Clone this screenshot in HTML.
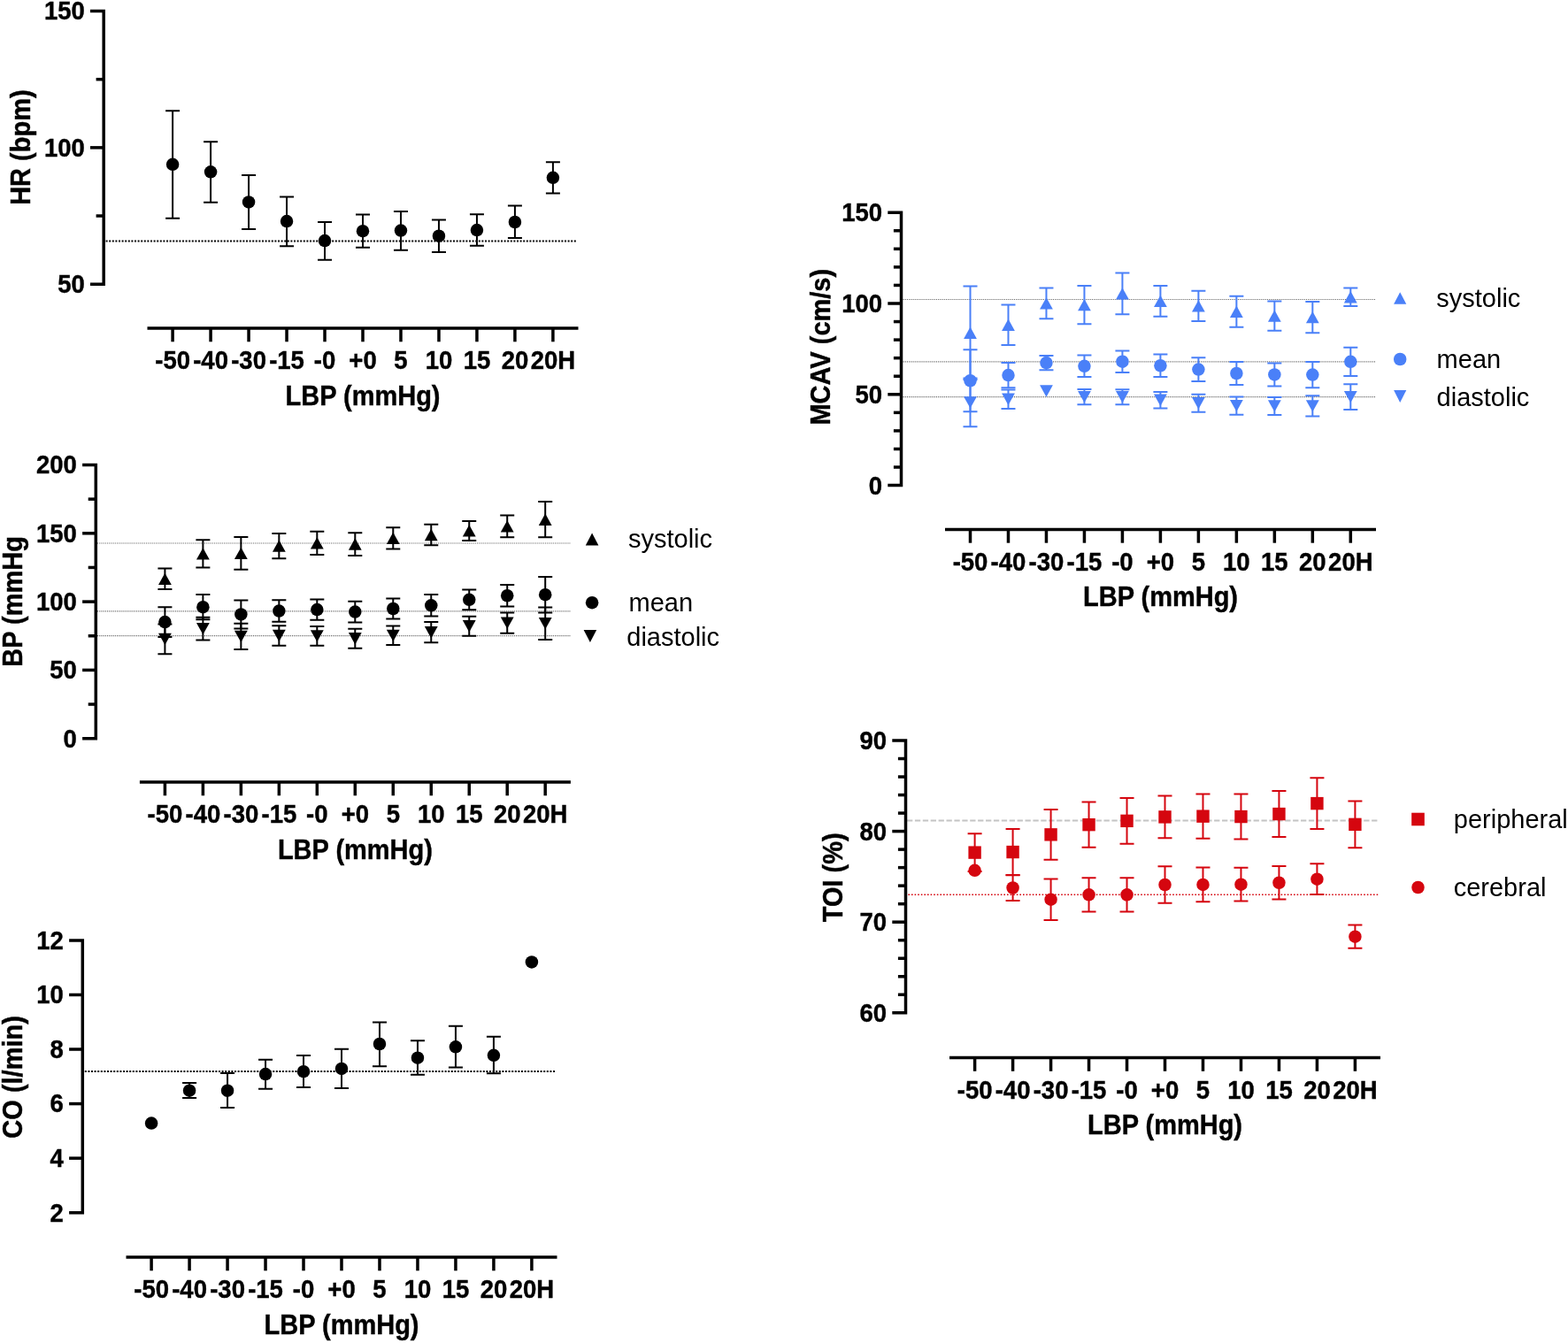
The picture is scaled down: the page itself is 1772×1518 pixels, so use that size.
<!DOCTYPE html>
<html><head><meta charset="utf-8"><title>LBP figure</title>
<style>
html,body{margin:0;padding:0;background:#fff;}
body{width:1772px;height:1518px;overflow:hidden;}
svg{display:block;}
.t{font-family:"Liberation Sans",Arial,sans-serif;font-weight:bold;font-size:27.5px;fill:#000;stroke:#000;stroke-width:0.4px;}
.a{font-family:"Liberation Sans",Arial,sans-serif;font-weight:bold;font-size:29.0px;fill:#000;stroke:#000;stroke-width:0.4px;}
.l{font-family:"Liberation Sans",Arial,sans-serif;font-weight:normal;font-size:29.0px;fill:#000;}
</style></head>
<body>
<svg width="1772" height="1518" viewBox="0 0 1772 1518">
<rect width="1772" height="1518" fill="#fff"/>
<line x1="119.6" y1="272.4" x2="652" y2="272.4" stroke="#000" stroke-width="2" stroke-dasharray="2 1.6"/>
<path d="M102 12.5H117.2V321.2H102" fill="none" stroke="#000" stroke-width="3.5" stroke-linejoin="miter" stroke-linecap="butt"/>
<text transform="translate(95.8 22.4) scale(1 1.04)" text-anchor="end" class="t">150</text>
<line x1="102" y1="166.85" x2="117.2" y2="166.85" stroke="#000" stroke-width="3.5"/>
<text transform="translate(95.8 176.75) scale(1 1.04)" text-anchor="end" class="t">100</text>
<text transform="translate(95.8 331.1) scale(1 1.04)" text-anchor="end" class="t">50</text>
<line x1="108.6" y1="244.02" x2="117.2" y2="244.02" stroke="#000" stroke-width="3.5"/>
<line x1="108.6" y1="89.68" x2="117.2" y2="89.68" stroke="#000" stroke-width="3.5"/>
<text transform="translate(33.8 166.6) rotate(-90) scale(1 1.09)" text-anchor="middle" class="a">HR (bpm)</text>
<line x1="166.5" y1="371" x2="653.5" y2="371" stroke="#000" stroke-width="3.5"/>
<line x1="195.1" y1="371" x2="195.1" y2="386.3" stroke="#000" stroke-width="3.5"/>
<text transform="translate(195.1 417.2) scale(1 1.04)" text-anchor="middle" class="t">-50</text>
<line x1="238.08" y1="371" x2="238.08" y2="386.3" stroke="#000" stroke-width="3.5"/>
<text transform="translate(238.08 417.2) scale(1 1.04)" text-anchor="middle" class="t">-40</text>
<line x1="281.06" y1="371" x2="281.06" y2="386.3" stroke="#000" stroke-width="3.5"/>
<text transform="translate(281.06 417.2) scale(1 1.04)" text-anchor="middle" class="t">-30</text>
<line x1="324.04" y1="371" x2="324.04" y2="386.3" stroke="#000" stroke-width="3.5"/>
<text transform="translate(324.04 417.2) scale(1 1.04)" text-anchor="middle" class="t">-15</text>
<line x1="367.02" y1="371" x2="367.02" y2="386.3" stroke="#000" stroke-width="3.5"/>
<text transform="translate(367.02 417.2) scale(1 1.04)" text-anchor="middle" class="t">-0</text>
<line x1="410" y1="371" x2="410" y2="386.3" stroke="#000" stroke-width="3.5"/>
<text transform="translate(410 417.2) scale(1 1.04)" text-anchor="middle" class="t">+0</text>
<line x1="452.98" y1="371" x2="452.98" y2="386.3" stroke="#000" stroke-width="3.5"/>
<text transform="translate(452.98 417.2) scale(1 1.04)" text-anchor="middle" class="t">5</text>
<line x1="495.96" y1="371" x2="495.96" y2="386.3" stroke="#000" stroke-width="3.5"/>
<text transform="translate(495.96 417.2) scale(1 1.04)" text-anchor="middle" class="t">10</text>
<line x1="538.94" y1="371" x2="538.94" y2="386.3" stroke="#000" stroke-width="3.5"/>
<text transform="translate(538.94 417.2) scale(1 1.04)" text-anchor="middle" class="t">15</text>
<line x1="581.92" y1="371" x2="581.92" y2="386.3" stroke="#000" stroke-width="3.5"/>
<text transform="translate(581.92 417.2) scale(1 1.04)" text-anchor="middle" class="t">20</text>
<line x1="624.9" y1="371" x2="624.9" y2="386.3" stroke="#000" stroke-width="3.5"/>
<text transform="translate(624.9 417.2) scale(1 1.04)" text-anchor="middle" class="t">20H</text>
<text transform="translate(410 457.8) scale(1 1.09)" text-anchor="middle" class="a">LBP (mmHg)</text>
<path d="M195.1 125.2V246.7M187.1 125.2H203.1M187.1 246.7H203.1" stroke="#000" stroke-width="2.0" fill="none"/>
<circle cx="195.1" cy="185.8" r="7.25" fill="#000"/>
<path d="M238.08 160.2V228.8M230.08 160.2H246.08M230.08 228.8H246.08" stroke="#000" stroke-width="2.0" fill="none"/>
<circle cx="238.08" cy="194.3" r="7.25" fill="#000"/>
<path d="M281.06 197.9V258.9M273.06 197.9H289.06M273.06 258.9H289.06" stroke="#000" stroke-width="2.0" fill="none"/>
<circle cx="281.06" cy="228.4" r="7.25" fill="#000"/>
<path d="M324.04 222.5V278.3M316.04 222.5H332.04M316.04 278.3H332.04" stroke="#000" stroke-width="2.0" fill="none"/>
<circle cx="324.04" cy="250.1" r="7.25" fill="#000"/>
<path d="M367.02 251.1V293.7M359.02 251.1H375.02M359.02 293.7H375.02" stroke="#000" stroke-width="2.0" fill="none"/>
<circle cx="367.02" cy="272.1" r="7.25" fill="#000"/>
<path d="M410 242.4V279.8M402 242.4H418M402 279.8H418" stroke="#000" stroke-width="2.0" fill="none"/>
<circle cx="410" cy="261.2" r="7.25" fill="#000"/>
<path d="M452.98 238.9V282.7M444.98 238.9H460.98M444.98 282.7H460.98" stroke="#000" stroke-width="2.0" fill="none"/>
<circle cx="452.98" cy="260.6" r="7.25" fill="#000"/>
<path d="M495.96 248.4V284.9M487.96 248.4H503.96M487.96 284.9H503.96" stroke="#000" stroke-width="2.0" fill="none"/>
<circle cx="495.96" cy="266.7" r="7.25" fill="#000"/>
<path d="M538.94 242.3V277.8M530.94 242.3H546.94M530.94 277.8H546.94" stroke="#000" stroke-width="2.0" fill="none"/>
<circle cx="538.94" cy="260.1" r="7.25" fill="#000"/>
<path d="M581.92 232.4V268.9M573.92 232.4H589.92M573.92 268.9H589.92" stroke="#000" stroke-width="2.0" fill="none"/>
<circle cx="581.92" cy="251" r="7.25" fill="#000"/>
<path d="M624.9 183.2V218.4M616.9 183.2H632.9M616.9 218.4H632.9" stroke="#000" stroke-width="2.0" fill="none"/>
<circle cx="624.9" cy="200.8" r="7.25" fill="#000"/>
<line x1="110" y1="614" x2="645" y2="614" stroke="#666" stroke-width="1.2" stroke-dasharray="1.1 1.1"/>
<line x1="110" y1="690.8" x2="645" y2="690.8" stroke="#666" stroke-width="1.2" stroke-dasharray="1.1 1.1"/>
<line x1="110" y1="718.7" x2="645" y2="718.7" stroke="#666" stroke-width="1.2" stroke-dasharray="1.1 1.1"/>
<path d="M93.1 525.5H108.3V834.7H93.1" fill="none" stroke="#000" stroke-width="3.5" stroke-linejoin="miter" stroke-linecap="butt"/>
<text transform="translate(86.9 535.4) scale(1 1.04)" text-anchor="end" class="t">200</text>
<line x1="93.1" y1="602.8" x2="108.3" y2="602.8" stroke="#000" stroke-width="3.5"/>
<text transform="translate(86.9 612.7) scale(1 1.04)" text-anchor="end" class="t">150</text>
<line x1="93.1" y1="680.1" x2="108.3" y2="680.1" stroke="#000" stroke-width="3.5"/>
<text transform="translate(86.9 690) scale(1 1.04)" text-anchor="end" class="t">100</text>
<line x1="93.1" y1="757.4" x2="108.3" y2="757.4" stroke="#000" stroke-width="3.5"/>
<text transform="translate(86.9 767.3) scale(1 1.04)" text-anchor="end" class="t">50</text>
<text transform="translate(86.9 844.6) scale(1 1.04)" text-anchor="end" class="t">0</text>
<line x1="99.7" y1="796.05" x2="108.3" y2="796.05" stroke="#000" stroke-width="3.5"/>
<line x1="99.7" y1="718.75" x2="108.3" y2="718.75" stroke="#000" stroke-width="3.5"/>
<line x1="99.7" y1="641.45" x2="108.3" y2="641.45" stroke="#000" stroke-width="3.5"/>
<line x1="99.7" y1="564.15" x2="108.3" y2="564.15" stroke="#000" stroke-width="3.5"/>
<text transform="translate(25.1 679.9) rotate(-90) scale(1 1.09)" text-anchor="middle" class="a">BP (mmHg</text>
<line x1="157.9" y1="884" x2="644.9" y2="884" stroke="#000" stroke-width="3.5"/>
<line x1="186.4" y1="884" x2="186.4" y2="899.3" stroke="#000" stroke-width="3.5"/>
<text transform="translate(186.4 930.2) scale(1 1.04)" text-anchor="middle" class="t">-50</text>
<line x1="229.38" y1="884" x2="229.38" y2="899.3" stroke="#000" stroke-width="3.5"/>
<text transform="translate(229.38 930.2) scale(1 1.04)" text-anchor="middle" class="t">-40</text>
<line x1="272.36" y1="884" x2="272.36" y2="899.3" stroke="#000" stroke-width="3.5"/>
<text transform="translate(272.36 930.2) scale(1 1.04)" text-anchor="middle" class="t">-30</text>
<line x1="315.34" y1="884" x2="315.34" y2="899.3" stroke="#000" stroke-width="3.5"/>
<text transform="translate(315.34 930.2) scale(1 1.04)" text-anchor="middle" class="t">-15</text>
<line x1="358.32" y1="884" x2="358.32" y2="899.3" stroke="#000" stroke-width="3.5"/>
<text transform="translate(358.32 930.2) scale(1 1.04)" text-anchor="middle" class="t">-0</text>
<line x1="401.3" y1="884" x2="401.3" y2="899.3" stroke="#000" stroke-width="3.5"/>
<text transform="translate(401.3 930.2) scale(1 1.04)" text-anchor="middle" class="t">+0</text>
<line x1="444.28" y1="884" x2="444.28" y2="899.3" stroke="#000" stroke-width="3.5"/>
<text transform="translate(444.28 930.2) scale(1 1.04)" text-anchor="middle" class="t">5</text>
<line x1="487.26" y1="884" x2="487.26" y2="899.3" stroke="#000" stroke-width="3.5"/>
<text transform="translate(487.26 930.2) scale(1 1.04)" text-anchor="middle" class="t">10</text>
<line x1="530.24" y1="884" x2="530.24" y2="899.3" stroke="#000" stroke-width="3.5"/>
<text transform="translate(530.24 930.2) scale(1 1.04)" text-anchor="middle" class="t">15</text>
<line x1="573.22" y1="884" x2="573.22" y2="899.3" stroke="#000" stroke-width="3.5"/>
<text transform="translate(573.22 930.2) scale(1 1.04)" text-anchor="middle" class="t">20</text>
<line x1="616.2" y1="884" x2="616.2" y2="899.3" stroke="#000" stroke-width="3.5"/>
<text transform="translate(616.2 930.2) scale(1 1.04)" text-anchor="middle" class="t">20H</text>
<text transform="translate(401.4 970.8) scale(1 1.09)" text-anchor="middle" class="a">LBP (mmHg)</text>
<path d="M186.4 642.6V666.1M178.4 642.6H194.4M178.4 666.1H194.4" stroke="#000" stroke-width="2.0" fill="none"/>
<path d="M186.4 647.65L193.8 661.05L179 661.05Z" fill="#000"/>
<path d="M186.4 686.3V719.9M178.4 686.3H194.4M178.4 719.9H194.4" stroke="#000" stroke-width="2.0" fill="none"/>
<circle cx="186.4" cy="703.1" r="7.25" fill="#000"/>
<path d="M186.4 705.5V739.3M178.4 705.5H194.4M178.4 739.3H194.4" stroke="#000" stroke-width="2.0" fill="none"/>
<path d="M179 715.7L193.8 715.7L186.4 729.1Z" fill="#000"/>
<path d="M229.38 610.2V641.5M221.38 610.2H237.38M221.38 641.5H237.38" stroke="#000" stroke-width="2.0" fill="none"/>
<path d="M229.38 619.15L236.78 632.55L221.98 632.55Z" fill="#000"/>
<path d="M229.38 672.1V700.3M221.38 672.1H237.38M221.38 700.3H237.38" stroke="#000" stroke-width="2.0" fill="none"/>
<circle cx="229.38" cy="686.2" r="7.25" fill="#000"/>
<path d="M229.38 697.7V723.5M221.38 697.7H237.38M221.38 723.5H237.38" stroke="#000" stroke-width="2.0" fill="none"/>
<path d="M221.98 703.9L236.78 703.9L229.38 717.3Z" fill="#000"/>
<path d="M272.36 607V643.7M264.36 607H280.36M264.36 643.7H280.36" stroke="#000" stroke-width="2.0" fill="none"/>
<path d="M272.36 618.65L279.76 632.05L264.96 632.05Z" fill="#000"/>
<path d="M272.36 678.5V710.4M264.36 678.5H280.36M264.36 710.4H280.36" stroke="#000" stroke-width="2.0" fill="none"/>
<circle cx="272.36" cy="694.45" r="7.25" fill="#000"/>
<path d="M272.36 704.8V733.9M264.36 704.8H280.36M264.36 733.9H280.36" stroke="#000" stroke-width="2.0" fill="none"/>
<path d="M264.96 712.65L279.76 712.65L272.36 726.05Z" fill="#000"/>
<path d="M315.34 603V631.3M307.34 603H323.34M307.34 631.3H323.34" stroke="#000" stroke-width="2.0" fill="none"/>
<path d="M315.34 610.45L322.74 623.85L307.94 623.85Z" fill="#000"/>
<path d="M315.34 678.3V702.8M307.34 678.3H323.34M307.34 702.8H323.34" stroke="#000" stroke-width="2.0" fill="none"/>
<circle cx="315.34" cy="690.55" r="7.25" fill="#000"/>
<path d="M315.34 707.3V729.7M307.34 707.3H323.34M307.34 729.7H323.34" stroke="#000" stroke-width="2.0" fill="none"/>
<path d="M307.94 711.8L322.74 711.8L315.34 725.2Z" fill="#000"/>
<path d="M358.32 600.7V627M350.32 600.7H366.32M350.32 627H366.32" stroke="#000" stroke-width="2.0" fill="none"/>
<path d="M358.32 607.15L365.72 620.55L350.92 620.55Z" fill="#000"/>
<path d="M358.32 677.4V700.7M350.32 677.4H366.32M350.32 700.7H366.32" stroke="#000" stroke-width="2.0" fill="none"/>
<circle cx="358.32" cy="689.05" r="7.25" fill="#000"/>
<path d="M358.32 708V729.8M350.32 708H366.32M350.32 729.8H366.32" stroke="#000" stroke-width="2.0" fill="none"/>
<path d="M350.92 712.2L365.72 712.2L358.32 725.6Z" fill="#000"/>
<path d="M401.3 602.2V627.9M393.3 602.2H409.3M393.3 627.9H409.3" stroke="#000" stroke-width="2.0" fill="none"/>
<path d="M401.3 608.35L408.7 621.75L393.9 621.75Z" fill="#000"/>
<path d="M401.3 679.7V703.5M393.3 679.7H409.3M393.3 703.5H409.3" stroke="#000" stroke-width="2.0" fill="none"/>
<circle cx="401.3" cy="691.6" r="7.25" fill="#000"/>
<path d="M401.3 710.8V732.8M393.3 710.8H409.3M393.3 732.8H409.3" stroke="#000" stroke-width="2.0" fill="none"/>
<path d="M393.9 715.1L408.7 715.1L401.3 728.5Z" fill="#000"/>
<path d="M444.28 596.2V620.5M436.28 596.2H452.28M436.28 620.5H452.28" stroke="#000" stroke-width="2.0" fill="none"/>
<path d="M444.28 601.65L451.68 615.05L436.88 615.05Z" fill="#000"/>
<path d="M444.28 676.4V699.6M436.28 676.4H452.28M436.28 699.6H452.28" stroke="#000" stroke-width="2.0" fill="none"/>
<circle cx="444.28" cy="688" r="7.25" fill="#000"/>
<path d="M444.28 707.6V729.1M436.28 707.6H452.28M436.28 729.1H452.28" stroke="#000" stroke-width="2.0" fill="none"/>
<path d="M436.88 711.65L451.68 711.65L444.28 725.05Z" fill="#000"/>
<path d="M487.26 592.8V616.3M479.26 592.8H495.26M479.26 616.3H495.26" stroke="#000" stroke-width="2.0" fill="none"/>
<path d="M487.26 597.85L494.66 611.25L479.86 611.25Z" fill="#000"/>
<path d="M487.26 672V696.6M479.26 672H495.26M479.26 696.6H495.26" stroke="#000" stroke-width="2.0" fill="none"/>
<circle cx="487.26" cy="684.3" r="7.25" fill="#000"/>
<path d="M487.26 703.1V726.3M479.26 703.1H495.26M479.26 726.3H495.26" stroke="#000" stroke-width="2.0" fill="none"/>
<path d="M479.86 708L494.66 708L487.26 721.4Z" fill="#000"/>
<path d="M530.24 588.9V610.9M522.24 588.9H538.24M522.24 610.9H538.24" stroke="#000" stroke-width="2.0" fill="none"/>
<path d="M530.24 593.2L537.64 606.6L522.84 606.6Z" fill="#000"/>
<path d="M530.24 666.4V689.3M522.24 666.4H538.24M522.24 689.3H538.24" stroke="#000" stroke-width="2.0" fill="none"/>
<circle cx="530.24" cy="677.85" r="7.25" fill="#000"/>
<path d="M530.24 696.8V718.8M522.24 696.8H538.24M522.24 718.8H538.24" stroke="#000" stroke-width="2.0" fill="none"/>
<path d="M522.84 701.1L537.64 701.1L530.24 714.5Z" fill="#000"/>
<path d="M573.22 582.5V607.2M565.22 582.5H581.22M565.22 607.2H581.22" stroke="#000" stroke-width="2.0" fill="none"/>
<path d="M573.22 588.15L580.62 601.55L565.82 601.55Z" fill="#000"/>
<path d="M573.22 661V685.5M565.22 661H581.22M565.22 685.5H581.22" stroke="#000" stroke-width="2.0" fill="none"/>
<circle cx="573.22" cy="673.25" r="7.25" fill="#000"/>
<path d="M573.22 692.4V715.8M565.22 692.4H581.22M565.22 715.8H581.22" stroke="#000" stroke-width="2.0" fill="none"/>
<path d="M565.82 697.4L580.62 697.4L573.22 710.8Z" fill="#000"/>
<path d="M616.2 567.1V607.3M608.2 567.1H624.2M608.2 607.3H624.2" stroke="#000" stroke-width="2.0" fill="none"/>
<path d="M616.2 580.5L623.6 593.9L608.8 593.9Z" fill="#000"/>
<path d="M616.2 652V692.4M608.2 652H624.2M608.2 692.4H624.2" stroke="#000" stroke-width="2.0" fill="none"/>
<circle cx="616.2" cy="672.2" r="7.25" fill="#000"/>
<path d="M616.2 686.4V722.9M608.2 686.4H624.2M608.2 722.9H624.2" stroke="#000" stroke-width="2.0" fill="none"/>
<path d="M608.8 697.95L623.6 697.95L616.2 711.35Z" fill="#000"/>
<path d="M669.1 602.4L676.4 616.4L661.8 616.4Z" fill="#000"/>
<text transform="translate(710 619.2) scale(1 1.04)" class="l">systolic</text>
<circle cx="669.1" cy="681.2" r="7.25" fill="#000"/>
<text transform="translate(710.5 691.4) scale(1 1.04)" class="l">mean</text>
<path d="M659.6 712.1L674.2 712.1L666.9 726.1Z" fill="#000"/>
<text transform="translate(708.3 729.5) scale(1 1.04)" class="l">diastolic</text>
<line x1="95.8" y1="1210.9" x2="628" y2="1210.9" stroke="#000" stroke-width="2" stroke-dasharray="2 1.6"/>
<path d="M78.1 1062.9H93.3V1370.7H78.1" fill="none" stroke="#000" stroke-width="3.5" stroke-linejoin="miter" stroke-linecap="butt"/>
<text transform="translate(71.9 1072.8) scale(1 1.04)" text-anchor="end" class="t">12</text>
<line x1="78.1" y1="1124.46" x2="93.3" y2="1124.46" stroke="#000" stroke-width="3.5"/>
<text transform="translate(71.9 1134.36) scale(1 1.04)" text-anchor="end" class="t">10</text>
<line x1="78.1" y1="1186.02" x2="93.3" y2="1186.02" stroke="#000" stroke-width="3.5"/>
<text transform="translate(71.9 1195.92) scale(1 1.04)" text-anchor="end" class="t">8</text>
<line x1="78.1" y1="1247.58" x2="93.3" y2="1247.58" stroke="#000" stroke-width="3.5"/>
<text transform="translate(71.9 1257.48) scale(1 1.04)" text-anchor="end" class="t">6</text>
<line x1="78.1" y1="1309.14" x2="93.3" y2="1309.14" stroke="#000" stroke-width="3.5"/>
<text transform="translate(71.9 1319.04) scale(1 1.04)" text-anchor="end" class="t">4</text>
<text transform="translate(71.9 1380.6) scale(1 1.04)" text-anchor="end" class="t">2</text>
<text transform="translate(25.3 1217.4) rotate(-90) scale(1 1.09)" text-anchor="middle" class="a">CO (l/min)</text>
<line x1="142.5" y1="1421" x2="629.5" y2="1421" stroke="#000" stroke-width="3.5"/>
<line x1="171.1" y1="1421" x2="171.1" y2="1436.3" stroke="#000" stroke-width="3.5"/>
<text transform="translate(171.1 1467.2) scale(1 1.04)" text-anchor="middle" class="t">-50</text>
<line x1="214.08" y1="1421" x2="214.08" y2="1436.3" stroke="#000" stroke-width="3.5"/>
<text transform="translate(214.08 1467.2) scale(1 1.04)" text-anchor="middle" class="t">-40</text>
<line x1="257.06" y1="1421" x2="257.06" y2="1436.3" stroke="#000" stroke-width="3.5"/>
<text transform="translate(257.06 1467.2) scale(1 1.04)" text-anchor="middle" class="t">-30</text>
<line x1="300.04" y1="1421" x2="300.04" y2="1436.3" stroke="#000" stroke-width="3.5"/>
<text transform="translate(300.04 1467.2) scale(1 1.04)" text-anchor="middle" class="t">-15</text>
<line x1="343.02" y1="1421" x2="343.02" y2="1436.3" stroke="#000" stroke-width="3.5"/>
<text transform="translate(343.02 1467.2) scale(1 1.04)" text-anchor="middle" class="t">-0</text>
<line x1="386" y1="1421" x2="386" y2="1436.3" stroke="#000" stroke-width="3.5"/>
<text transform="translate(386 1467.2) scale(1 1.04)" text-anchor="middle" class="t">+0</text>
<line x1="428.98" y1="1421" x2="428.98" y2="1436.3" stroke="#000" stroke-width="3.5"/>
<text transform="translate(428.98 1467.2) scale(1 1.04)" text-anchor="middle" class="t">5</text>
<line x1="471.96" y1="1421" x2="471.96" y2="1436.3" stroke="#000" stroke-width="3.5"/>
<text transform="translate(471.96 1467.2) scale(1 1.04)" text-anchor="middle" class="t">10</text>
<line x1="514.94" y1="1421" x2="514.94" y2="1436.3" stroke="#000" stroke-width="3.5"/>
<text transform="translate(514.94 1467.2) scale(1 1.04)" text-anchor="middle" class="t">15</text>
<line x1="557.92" y1="1421" x2="557.92" y2="1436.3" stroke="#000" stroke-width="3.5"/>
<text transform="translate(557.92 1467.2) scale(1 1.04)" text-anchor="middle" class="t">20</text>
<line x1="600.9" y1="1421" x2="600.9" y2="1436.3" stroke="#000" stroke-width="3.5"/>
<text transform="translate(600.9 1467.2) scale(1 1.04)" text-anchor="middle" class="t">20H</text>
<text transform="translate(386 1507.8) scale(1 1.09)" text-anchor="middle" class="a">LBP (mmHg)</text>
<circle cx="171.1" cy="1269.6" r="7.25" fill="#000"/>
<path d="M214.08 1224.1V1241M206.08 1224.1H222.08M206.08 1241H222.08" stroke="#000" stroke-width="2.0" fill="none"/>
<circle cx="214.08" cy="1232.7" r="7.25" fill="#000"/>
<path d="M257.06 1213.1V1252M249.06 1213.1H265.06M249.06 1252H265.06" stroke="#000" stroke-width="2.0" fill="none"/>
<circle cx="257.06" cy="1232.7" r="7.25" fill="#000"/>
<path d="M300.04 1197.7V1230.7M292.04 1197.7H308.04M292.04 1230.7H308.04" stroke="#000" stroke-width="2.0" fill="none"/>
<circle cx="300.04" cy="1214.1" r="7.25" fill="#000"/>
<path d="M343.02 1193.1V1228.9M335.02 1193.1H351.02M335.02 1228.9H351.02" stroke="#000" stroke-width="2.0" fill="none"/>
<circle cx="343.02" cy="1211.2" r="7.25" fill="#000"/>
<path d="M386 1185.8V1229.9M378 1185.8H394M378 1229.9H394" stroke="#000" stroke-width="2.0" fill="none"/>
<circle cx="386" cy="1207.9" r="7.25" fill="#000"/>
<path d="M428.98 1155.4V1205.3M420.98 1155.4H436.98M420.98 1205.3H436.98" stroke="#000" stroke-width="2.0" fill="none"/>
<circle cx="428.98" cy="1180" r="7.25" fill="#000"/>
<path d="M471.96 1176.2V1214.8M463.96 1176.2H479.96M463.96 1214.8H479.96" stroke="#000" stroke-width="2.0" fill="none"/>
<circle cx="471.96" cy="1195.7" r="7.25" fill="#000"/>
<path d="M514.94 1159.8V1206.4M506.94 1159.8H522.94M506.94 1206.4H522.94" stroke="#000" stroke-width="2.0" fill="none"/>
<circle cx="514.94" cy="1183.3" r="7.25" fill="#000"/>
<path d="M557.92 1171.8V1213.3M549.92 1171.8H565.92M549.92 1213.3H565.92" stroke="#000" stroke-width="2.0" fill="none"/>
<circle cx="557.92" cy="1192.8" r="7.25" fill="#000"/>
<circle cx="600.9" cy="1087.4" r="7.25" fill="#000"/>
<line x1="1020.5" y1="338.5" x2="1555" y2="338.5" stroke="#666" stroke-width="1.2" stroke-dasharray="1.1 1.1"/>
<line x1="1020.5" y1="408.8" x2="1555" y2="408.8" stroke="#666" stroke-width="1.2" stroke-dasharray="1.1 1.1"/>
<line x1="1020.5" y1="448.7" x2="1555" y2="448.7" stroke="#666" stroke-width="1.2" stroke-dasharray="1.1 1.1"/>
<path d="M1003.3 240.2H1018.5V548.6H1003.3" fill="none" stroke="#000" stroke-width="3.5" stroke-linejoin="miter" stroke-linecap="butt"/>
<text transform="translate(997.1 250.1) scale(1 1.04)" text-anchor="end" class="t">150</text>
<line x1="1003.3" y1="343" x2="1018.5" y2="343" stroke="#000" stroke-width="3.5"/>
<text transform="translate(997.1 352.9) scale(1 1.04)" text-anchor="end" class="t">100</text>
<line x1="1003.3" y1="445.8" x2="1018.5" y2="445.8" stroke="#000" stroke-width="3.5"/>
<text transform="translate(997.1 455.7) scale(1 1.04)" text-anchor="end" class="t">50</text>
<text transform="translate(997.1 558.5) scale(1 1.04)" text-anchor="end" class="t">0</text>
<line x1="1009.9" y1="528.04" x2="1018.5" y2="528.04" stroke="#000" stroke-width="3.5"/>
<line x1="1009.9" y1="507.48" x2="1018.5" y2="507.48" stroke="#000" stroke-width="3.5"/>
<line x1="1009.9" y1="486.92" x2="1018.5" y2="486.92" stroke="#000" stroke-width="3.5"/>
<line x1="1009.9" y1="466.36" x2="1018.5" y2="466.36" stroke="#000" stroke-width="3.5"/>
<line x1="1009.9" y1="425.24" x2="1018.5" y2="425.24" stroke="#000" stroke-width="3.5"/>
<line x1="1009.9" y1="404.68" x2="1018.5" y2="404.68" stroke="#000" stroke-width="3.5"/>
<line x1="1009.9" y1="384.12" x2="1018.5" y2="384.12" stroke="#000" stroke-width="3.5"/>
<line x1="1009.9" y1="363.56" x2="1018.5" y2="363.56" stroke="#000" stroke-width="3.5"/>
<line x1="1009.9" y1="322.44" x2="1018.5" y2="322.44" stroke="#000" stroke-width="3.5"/>
<line x1="1009.9" y1="301.88" x2="1018.5" y2="301.88" stroke="#000" stroke-width="3.5"/>
<line x1="1009.9" y1="281.32" x2="1018.5" y2="281.32" stroke="#000" stroke-width="3.5"/>
<line x1="1009.9" y1="260.76" x2="1018.5" y2="260.76" stroke="#000" stroke-width="3.5"/>
<text transform="translate(938.2 392.2) rotate(-90) scale(1 1.09)" text-anchor="middle" class="a">MCAV (cm/s)</text>
<line x1="1068" y1="598.4" x2="1555" y2="598.4" stroke="#000" stroke-width="3.5"/>
<line x1="1096.5" y1="598.4" x2="1096.5" y2="613.7" stroke="#000" stroke-width="3.5"/>
<text transform="translate(1096.5 644.6) scale(1 1.04)" text-anchor="middle" class="t">-50</text>
<line x1="1139.48" y1="598.4" x2="1139.48" y2="613.7" stroke="#000" stroke-width="3.5"/>
<text transform="translate(1139.48 644.6) scale(1 1.04)" text-anchor="middle" class="t">-40</text>
<line x1="1182.46" y1="598.4" x2="1182.46" y2="613.7" stroke="#000" stroke-width="3.5"/>
<text transform="translate(1182.46 644.6) scale(1 1.04)" text-anchor="middle" class="t">-30</text>
<line x1="1225.44" y1="598.4" x2="1225.44" y2="613.7" stroke="#000" stroke-width="3.5"/>
<text transform="translate(1225.44 644.6) scale(1 1.04)" text-anchor="middle" class="t">-15</text>
<line x1="1268.42" y1="598.4" x2="1268.42" y2="613.7" stroke="#000" stroke-width="3.5"/>
<text transform="translate(1268.42 644.6) scale(1 1.04)" text-anchor="middle" class="t">-0</text>
<line x1="1311.4" y1="598.4" x2="1311.4" y2="613.7" stroke="#000" stroke-width="3.5"/>
<text transform="translate(1311.4 644.6) scale(1 1.04)" text-anchor="middle" class="t">+0</text>
<line x1="1354.38" y1="598.4" x2="1354.38" y2="613.7" stroke="#000" stroke-width="3.5"/>
<text transform="translate(1354.38 644.6) scale(1 1.04)" text-anchor="middle" class="t">5</text>
<line x1="1397.36" y1="598.4" x2="1397.36" y2="613.7" stroke="#000" stroke-width="3.5"/>
<text transform="translate(1397.36 644.6) scale(1 1.04)" text-anchor="middle" class="t">10</text>
<line x1="1440.34" y1="598.4" x2="1440.34" y2="613.7" stroke="#000" stroke-width="3.5"/>
<text transform="translate(1440.34 644.6) scale(1 1.04)" text-anchor="middle" class="t">15</text>
<line x1="1483.32" y1="598.4" x2="1483.32" y2="613.7" stroke="#000" stroke-width="3.5"/>
<text transform="translate(1483.32 644.6) scale(1 1.04)" text-anchor="middle" class="t">20</text>
<line x1="1526.3" y1="598.4" x2="1526.3" y2="613.7" stroke="#000" stroke-width="3.5"/>
<text transform="translate(1526.3 644.6) scale(1 1.04)" text-anchor="middle" class="t">20H</text>
<text transform="translate(1311.5 685.2) scale(1 1.09)" text-anchor="middle" class="a">LBP (mmHg)</text>
<path d="M1096.5 323.4V429M1088.5 323.4H1104.5M1088.5 429H1104.5" stroke="#4a80f8" stroke-width="2.0" fill="none"/>
<path d="M1096.5 369.5L1103.9 382.9L1089.1 382.9Z" fill="#4a80f8"/>
<path d="M1096.5 395.3V465.2M1088.5 395.3H1104.5M1088.5 465.2H1104.5" stroke="#4a80f8" stroke-width="2.0" fill="none"/>
<circle cx="1096.5" cy="430.25" r="7.25" fill="#4a80f8"/>
<path d="M1096.5 427.5V482.3M1088.5 427.5H1104.5M1088.5 482.3H1104.5" stroke="#4a80f8" stroke-width="2.0" fill="none"/>
<path d="M1089.1 448.2L1103.9 448.2L1096.5 461.6Z" fill="#4a80f8"/>
<path d="M1139.48 344.4V390.1M1131.48 344.4H1147.48M1131.48 390.1H1147.48" stroke="#4a80f8" stroke-width="2.0" fill="none"/>
<path d="M1139.48 360.55L1146.88 373.95L1132.08 373.95Z" fill="#4a80f8"/>
<path d="M1139.48 409.9V438.3M1131.48 409.9H1147.48M1131.48 438.3H1147.48" stroke="#4a80f8" stroke-width="2.0" fill="none"/>
<circle cx="1139.48" cy="424.1" r="7.25" fill="#4a80f8"/>
<path d="M1139.48 440.6V462M1131.48 440.6H1147.48M1131.48 462H1147.48" stroke="#4a80f8" stroke-width="2.0" fill="none"/>
<path d="M1132.08 444.6L1146.88 444.6L1139.48 458Z" fill="#4a80f8"/>
<path d="M1182.46 325.4V360.3M1174.46 325.4H1190.46M1174.46 360.3H1190.46" stroke="#4a80f8" stroke-width="2.0" fill="none"/>
<path d="M1182.46 336.15L1189.86 349.55L1175.06 349.55Z" fill="#4a80f8"/>
<path d="M1182.46 402V418.2M1174.46 402H1190.46M1174.46 418.2H1190.46" stroke="#4a80f8" stroke-width="2.0" fill="none"/>
<circle cx="1182.46" cy="410.1" r="7.25" fill="#4a80f8"/>
<path d="M1175.06 435.3L1189.86 435.3L1182.46 448.7Z" fill="#4a80f8"/>
<path d="M1225.44 322.9V366.3M1217.44 322.9H1233.44M1217.44 366.3H1233.44" stroke="#4a80f8" stroke-width="2.0" fill="none"/>
<path d="M1225.44 337.9L1232.84 351.3L1218.04 351.3Z" fill="#4a80f8"/>
<path d="M1225.44 401.6V426M1217.44 401.6H1233.44M1217.44 426H1233.44" stroke="#4a80f8" stroke-width="2.0" fill="none"/>
<circle cx="1225.44" cy="413.8" r="7.25" fill="#4a80f8"/>
<path d="M1225.44 439.9V457.3M1217.44 439.9H1233.44M1217.44 457.3H1233.44" stroke="#4a80f8" stroke-width="2.0" fill="none"/>
<path d="M1218.04 441.9L1232.84 441.9L1225.44 455.3Z" fill="#4a80f8"/>
<path d="M1268.42 308.5V355.3M1260.42 308.5H1276.42M1260.42 355.3H1276.42" stroke="#4a80f8" stroke-width="2.0" fill="none"/>
<path d="M1268.42 325.2L1275.82 338.6L1261.02 338.6Z" fill="#4a80f8"/>
<path d="M1268.42 396.4V421M1260.42 396.4H1276.42M1260.42 421H1276.42" stroke="#4a80f8" stroke-width="2.0" fill="none"/>
<circle cx="1268.42" cy="408.7" r="7.25" fill="#4a80f8"/>
<path d="M1268.42 440.2V457.3M1260.42 440.2H1276.42M1260.42 457.3H1276.42" stroke="#4a80f8" stroke-width="2.0" fill="none"/>
<path d="M1261.02 442.05L1275.82 442.05L1268.42 455.45Z" fill="#4a80f8"/>
<path d="M1311.4 322.9V357.8M1303.4 322.9H1319.4M1303.4 357.8H1319.4" stroke="#4a80f8" stroke-width="2.0" fill="none"/>
<path d="M1311.4 333.65L1318.8 347.05L1304 347.05Z" fill="#4a80f8"/>
<path d="M1311.4 400.5V426M1303.4 400.5H1319.4M1303.4 426H1319.4" stroke="#4a80f8" stroke-width="2.0" fill="none"/>
<circle cx="1311.4" cy="413.25" r="7.25" fill="#4a80f8"/>
<path d="M1311.4 443V461.4M1303.4 443H1319.4M1303.4 461.4H1319.4" stroke="#4a80f8" stroke-width="2.0" fill="none"/>
<path d="M1304 445.5L1318.8 445.5L1311.4 458.9Z" fill="#4a80f8"/>
<path d="M1354.38 328.8V362.9M1346.38 328.8H1362.38M1346.38 362.9H1362.38" stroke="#4a80f8" stroke-width="2.0" fill="none"/>
<path d="M1354.38 339.15L1361.78 352.55L1346.98 352.55Z" fill="#4a80f8"/>
<path d="M1354.38 404.2V431M1346.38 404.2H1362.38M1346.38 431H1362.38" stroke="#4a80f8" stroke-width="2.0" fill="none"/>
<circle cx="1354.38" cy="417.6" r="7.25" fill="#4a80f8"/>
<path d="M1354.38 445.8V465.8M1346.38 445.8H1362.38M1346.38 465.8H1362.38" stroke="#4a80f8" stroke-width="2.0" fill="none"/>
<path d="M1346.98 449.1L1361.78 449.1L1354.38 462.5Z" fill="#4a80f8"/>
<path d="M1397.36 334.8V369.8M1389.36 334.8H1405.36M1389.36 369.8H1405.36" stroke="#4a80f8" stroke-width="2.0" fill="none"/>
<path d="M1397.36 345.6L1404.76 359L1389.96 359Z" fill="#4a80f8"/>
<path d="M1397.36 408.9V435.1M1389.36 408.9H1405.36M1389.36 435.1H1405.36" stroke="#4a80f8" stroke-width="2.0" fill="none"/>
<circle cx="1397.36" cy="422" r="7.25" fill="#4a80f8"/>
<path d="M1397.36 448.6V468.7M1389.36 448.6H1405.36M1389.36 468.7H1405.36" stroke="#4a80f8" stroke-width="2.0" fill="none"/>
<path d="M1389.96 451.95L1404.76 451.95L1397.36 465.35Z" fill="#4a80f8"/>
<path d="M1440.34 340.4V373.8M1432.34 340.4H1448.34M1432.34 373.8H1448.34" stroke="#4a80f8" stroke-width="2.0" fill="none"/>
<path d="M1440.34 350.4L1447.74 363.8L1432.94 363.8Z" fill="#4a80f8"/>
<path d="M1440.34 410.5V436.4M1432.34 410.5H1448.34M1432.34 436.4H1448.34" stroke="#4a80f8" stroke-width="2.0" fill="none"/>
<circle cx="1440.34" cy="423.45" r="7.25" fill="#4a80f8"/>
<path d="M1440.34 448.9V468.9M1432.34 448.9H1448.34M1432.34 468.9H1448.34" stroke="#4a80f8" stroke-width="2.0" fill="none"/>
<path d="M1432.94 452.2L1447.74 452.2L1440.34 465.6Z" fill="#4a80f8"/>
<path d="M1483.32 341V376.3M1475.32 341H1491.32M1475.32 376.3H1491.32" stroke="#4a80f8" stroke-width="2.0" fill="none"/>
<path d="M1483.32 351.95L1490.72 365.35L1475.92 365.35Z" fill="#4a80f8"/>
<path d="M1483.32 408.9V438.3M1475.32 408.9H1491.32M1475.32 438.3H1491.32" stroke="#4a80f8" stroke-width="2.0" fill="none"/>
<circle cx="1483.32" cy="423.6" r="7.25" fill="#4a80f8"/>
<path d="M1483.32 447.3V470.5M1475.32 447.3H1491.32M1475.32 470.5H1491.32" stroke="#4a80f8" stroke-width="2.0" fill="none"/>
<path d="M1475.92 452.2L1490.72 452.2L1483.32 465.6Z" fill="#4a80f8"/>
<path d="M1526.3 325.4V346M1518.3 325.4H1534.3M1518.3 346H1534.3" stroke="#4a80f8" stroke-width="2.0" fill="none"/>
<path d="M1526.3 329L1533.7 342.4L1518.9 342.4Z" fill="#4a80f8"/>
<path d="M1526.3 392.8V424.9M1518.3 392.8H1534.3M1518.3 424.9H1534.3" stroke="#4a80f8" stroke-width="2.0" fill="none"/>
<circle cx="1526.3" cy="408.85" r="7.25" fill="#4a80f8"/>
<path d="M1526.3 434.3V463M1518.3 434.3H1534.3M1518.3 463H1534.3" stroke="#4a80f8" stroke-width="2.0" fill="none"/>
<path d="M1518.9 441.95L1533.7 441.95L1526.3 455.35Z" fill="#4a80f8"/>
<path d="M1582.2 330.2L1589.3 343.8L1575.1 343.8Z" fill="#4a80f8"/>
<text transform="translate(1623.3 346.7) scale(1 1.04)" class="l">systolic</text>
<circle cx="1582.2" cy="406" r="7.25" fill="#4a80f8"/>
<text transform="translate(1623.6 415.8) scale(1 1.04)" class="l">mean</text>
<path d="M1575.1 440.9L1589.3 440.9L1582.2 455.1Z" fill="#4a80f8"/>
<text transform="translate(1623.6 458.9) scale(1 1.04)" class="l">diastolic</text>
<line x1="1025" y1="927.6" x2="1558" y2="927.6" stroke="#c4c4c4" stroke-width="2" stroke-dasharray="6.3 2.6"/>
<line x1="1026.4" y1="1011.3" x2="1558" y2="1011.3" stroke="#d5060f" stroke-width="1.6" stroke-dasharray="1.6 2"/>
<path d="M1008.3 837H1023.5V1144.8H1008.3" fill="none" stroke="#000" stroke-width="3.5" stroke-linejoin="miter" stroke-linecap="butt"/>
<text transform="translate(1002.1 846.9) scale(1 1.04)" text-anchor="end" class="t">90</text>
<line x1="1008.3" y1="939.6" x2="1023.5" y2="939.6" stroke="#000" stroke-width="3.5"/>
<text transform="translate(1002.1 949.5) scale(1 1.04)" text-anchor="end" class="t">80</text>
<line x1="1008.3" y1="1042.2" x2="1023.5" y2="1042.2" stroke="#000" stroke-width="3.5"/>
<text transform="translate(1002.1 1052.1) scale(1 1.04)" text-anchor="end" class="t">70</text>
<text transform="translate(1002.1 1154.7) scale(1 1.04)" text-anchor="end" class="t">60</text>
<line x1="1014.9" y1="1124.28" x2="1023.5" y2="1124.28" stroke="#000" stroke-width="3.5"/>
<line x1="1014.9" y1="1103.76" x2="1023.5" y2="1103.76" stroke="#000" stroke-width="3.5"/>
<line x1="1014.9" y1="1083.24" x2="1023.5" y2="1083.24" stroke="#000" stroke-width="3.5"/>
<line x1="1014.9" y1="1062.72" x2="1023.5" y2="1062.72" stroke="#000" stroke-width="3.5"/>
<line x1="1014.9" y1="1021.68" x2="1023.5" y2="1021.68" stroke="#000" stroke-width="3.5"/>
<line x1="1014.9" y1="1001.16" x2="1023.5" y2="1001.16" stroke="#000" stroke-width="3.5"/>
<line x1="1014.9" y1="980.64" x2="1023.5" y2="980.64" stroke="#000" stroke-width="3.5"/>
<line x1="1014.9" y1="960.12" x2="1023.5" y2="960.12" stroke="#000" stroke-width="3.5"/>
<line x1="1014.9" y1="919.08" x2="1023.5" y2="919.08" stroke="#000" stroke-width="3.5"/>
<line x1="1014.9" y1="898.56" x2="1023.5" y2="898.56" stroke="#000" stroke-width="3.5"/>
<line x1="1014.9" y1="878.04" x2="1023.5" y2="878.04" stroke="#000" stroke-width="3.5"/>
<line x1="1014.9" y1="857.52" x2="1023.5" y2="857.52" stroke="#000" stroke-width="3.5"/>
<text transform="translate(951.5 991.8) rotate(-90) scale(1 1.09)" text-anchor="middle" class="a">TOI (%)</text>
<line x1="1073" y1="1195.5" x2="1560" y2="1195.5" stroke="#000" stroke-width="3.5"/>
<line x1="1101.6" y1="1195.5" x2="1101.6" y2="1210.8" stroke="#000" stroke-width="3.5"/>
<text transform="translate(1101.6 1241.7) scale(1 1.04)" text-anchor="middle" class="t">-50</text>
<line x1="1144.58" y1="1195.5" x2="1144.58" y2="1210.8" stroke="#000" stroke-width="3.5"/>
<text transform="translate(1144.58 1241.7) scale(1 1.04)" text-anchor="middle" class="t">-40</text>
<line x1="1187.56" y1="1195.5" x2="1187.56" y2="1210.8" stroke="#000" stroke-width="3.5"/>
<text transform="translate(1187.56 1241.7) scale(1 1.04)" text-anchor="middle" class="t">-30</text>
<line x1="1230.54" y1="1195.5" x2="1230.54" y2="1210.8" stroke="#000" stroke-width="3.5"/>
<text transform="translate(1230.54 1241.7) scale(1 1.04)" text-anchor="middle" class="t">-15</text>
<line x1="1273.52" y1="1195.5" x2="1273.52" y2="1210.8" stroke="#000" stroke-width="3.5"/>
<text transform="translate(1273.52 1241.7) scale(1 1.04)" text-anchor="middle" class="t">-0</text>
<line x1="1316.5" y1="1195.5" x2="1316.5" y2="1210.8" stroke="#000" stroke-width="3.5"/>
<text transform="translate(1316.5 1241.7) scale(1 1.04)" text-anchor="middle" class="t">+0</text>
<line x1="1359.48" y1="1195.5" x2="1359.48" y2="1210.8" stroke="#000" stroke-width="3.5"/>
<text transform="translate(1359.48 1241.7) scale(1 1.04)" text-anchor="middle" class="t">5</text>
<line x1="1402.46" y1="1195.5" x2="1402.46" y2="1210.8" stroke="#000" stroke-width="3.5"/>
<text transform="translate(1402.46 1241.7) scale(1 1.04)" text-anchor="middle" class="t">10</text>
<line x1="1445.44" y1="1195.5" x2="1445.44" y2="1210.8" stroke="#000" stroke-width="3.5"/>
<text transform="translate(1445.44 1241.7) scale(1 1.04)" text-anchor="middle" class="t">15</text>
<line x1="1488.42" y1="1195.5" x2="1488.42" y2="1210.8" stroke="#000" stroke-width="3.5"/>
<text transform="translate(1488.42 1241.7) scale(1 1.04)" text-anchor="middle" class="t">20</text>
<line x1="1531.4" y1="1195.5" x2="1531.4" y2="1210.8" stroke="#000" stroke-width="3.5"/>
<text transform="translate(1531.4 1241.7) scale(1 1.04)" text-anchor="middle" class="t">20H</text>
<text transform="translate(1316.5 1282.3) scale(1 1.09)" text-anchor="middle" class="a">LBP (mmHg)</text>
<path d="M1101.6 942.3V984.9M1093.6 942.3H1109.6M1093.6 984.9H1109.6" stroke="#d5060f" stroke-width="2.0" fill="none"/>
<rect x="1094.4" y="956.4" width="14.4" height="14.4" fill="#d5060f"/>
<circle cx="1101.6" cy="983.8" r="7.25" fill="#d5060f"/>
<path d="M1144.58 936.9V989.2M1136.58 936.9H1152.58M1136.58 989.2H1152.58" stroke="#d5060f" stroke-width="2.0" fill="none"/>
<rect x="1137.38" y="955.85" width="14.4" height="14.4" fill="#d5060f"/>
<path d="M1144.58 989.1V1017.9M1136.58 989.1H1152.58M1136.58 1017.9H1152.58" stroke="#d5060f" stroke-width="2.0" fill="none"/>
<circle cx="1144.58" cy="1003.5" r="7.25" fill="#d5060f"/>
<path d="M1187.56 915V971.7M1179.56 915H1195.56M1179.56 971.7H1195.56" stroke="#d5060f" stroke-width="2.0" fill="none"/>
<rect x="1180.36" y="936.15" width="14.4" height="14.4" fill="#d5060f"/>
<path d="M1187.56 993.5V1039.9M1179.56 993.5H1195.56M1179.56 1039.9H1195.56" stroke="#d5060f" stroke-width="2.0" fill="none"/>
<circle cx="1187.56" cy="1016.7" r="7.25" fill="#d5060f"/>
<path d="M1230.54 906.5V957.8M1222.54 906.5H1238.54M1222.54 957.8H1238.54" stroke="#d5060f" stroke-width="2.0" fill="none"/>
<rect x="1223.34" y="924.95" width="14.4" height="14.4" fill="#d5060f"/>
<path d="M1230.54 992.2V1030.5M1222.54 992.2H1238.54M1222.54 1030.5H1238.54" stroke="#d5060f" stroke-width="2.0" fill="none"/>
<circle cx="1230.54" cy="1011.35" r="7.25" fill="#d5060f"/>
<path d="M1273.52 901.9V953.8M1265.52 901.9H1281.52M1265.52 953.8H1281.52" stroke="#d5060f" stroke-width="2.0" fill="none"/>
<rect x="1266.32" y="920.65" width="14.4" height="14.4" fill="#d5060f"/>
<path d="M1273.52 992.2V1030.5M1265.52 992.2H1281.52M1265.52 1030.5H1281.52" stroke="#d5060f" stroke-width="2.0" fill="none"/>
<circle cx="1273.52" cy="1011.35" r="7.25" fill="#d5060f"/>
<path d="M1316.5 899.6V947.2M1308.5 899.6H1324.5M1308.5 947.2H1324.5" stroke="#d5060f" stroke-width="2.0" fill="none"/>
<rect x="1309.3" y="916.2" width="14.4" height="14.4" fill="#d5060f"/>
<path d="M1316.5 979.2V1020.8M1308.5 979.2H1324.5M1308.5 1020.8H1324.5" stroke="#d5060f" stroke-width="2.0" fill="none"/>
<circle cx="1316.5" cy="1000" r="7.25" fill="#d5060f"/>
<path d="M1359.48 897.5V947.8M1351.48 897.5H1367.48M1351.48 947.8H1367.48" stroke="#d5060f" stroke-width="2.0" fill="none"/>
<rect x="1352.28" y="915.45" width="14.4" height="14.4" fill="#d5060f"/>
<path d="M1359.48 980.5V1019.3M1351.48 980.5H1367.48M1351.48 1019.3H1367.48" stroke="#d5060f" stroke-width="2.0" fill="none"/>
<circle cx="1359.48" cy="999.9" r="7.25" fill="#d5060f"/>
<path d="M1402.46 897.5V948.6M1394.46 897.5H1410.46M1394.46 948.6H1410.46" stroke="#d5060f" stroke-width="2.0" fill="none"/>
<rect x="1395.26" y="915.85" width="14.4" height="14.4" fill="#d5060f"/>
<path d="M1402.46 980.7V1018.6M1394.46 980.7H1410.46M1394.46 1018.6H1410.46" stroke="#d5060f" stroke-width="2.0" fill="none"/>
<circle cx="1402.46" cy="999.65" r="7.25" fill="#d5060f"/>
<path d="M1445.44 894.1V946M1437.44 894.1H1453.44M1437.44 946H1453.44" stroke="#d5060f" stroke-width="2.0" fill="none"/>
<rect x="1438.24" y="912.85" width="14.4" height="14.4" fill="#d5060f"/>
<path d="M1445.44 979.1V1016.4M1437.44 979.1H1453.44M1437.44 1016.4H1453.44" stroke="#d5060f" stroke-width="2.0" fill="none"/>
<circle cx="1445.44" cy="997.75" r="7.25" fill="#d5060f"/>
<path d="M1488.42 879.2V937M1480.42 879.2H1496.42M1480.42 937H1496.42" stroke="#d5060f" stroke-width="2.0" fill="none"/>
<rect x="1481.22" y="900.9" width="14.4" height="14.4" fill="#d5060f"/>
<path d="M1488.42 976.2V1011.1M1480.42 976.2H1496.42M1480.42 1011.1H1496.42" stroke="#d5060f" stroke-width="2.0" fill="none"/>
<circle cx="1488.42" cy="993.65" r="7.25" fill="#d5060f"/>
<path d="M1531.4 905.5V958.2M1523.4 905.5H1539.4M1523.4 958.2H1539.4" stroke="#d5060f" stroke-width="2.0" fill="none"/>
<rect x="1524.2" y="924.65" width="14.4" height="14.4" fill="#d5060f"/>
<path d="M1531.4 1045.6V1071.8M1523.4 1045.6H1539.4M1523.4 1071.8H1539.4" stroke="#d5060f" stroke-width="2.0" fill="none"/>
<circle cx="1531.4" cy="1058.7" r="7.25" fill="#d5060f"/>
<rect x="1595.2" y="918.7" width="14.6" height="14.6" fill="#d5060f"/>
<text transform="translate(1642.8 935.9) scale(1 1.04)" class="l">peripheral</text>
<circle cx="1602.5" cy="1003" r="7.25" fill="#d5060f"/>
<text transform="translate(1642.7 1013.3) scale(1 1.04)" class="l">cerebral</text>
</svg>
</body></html>
